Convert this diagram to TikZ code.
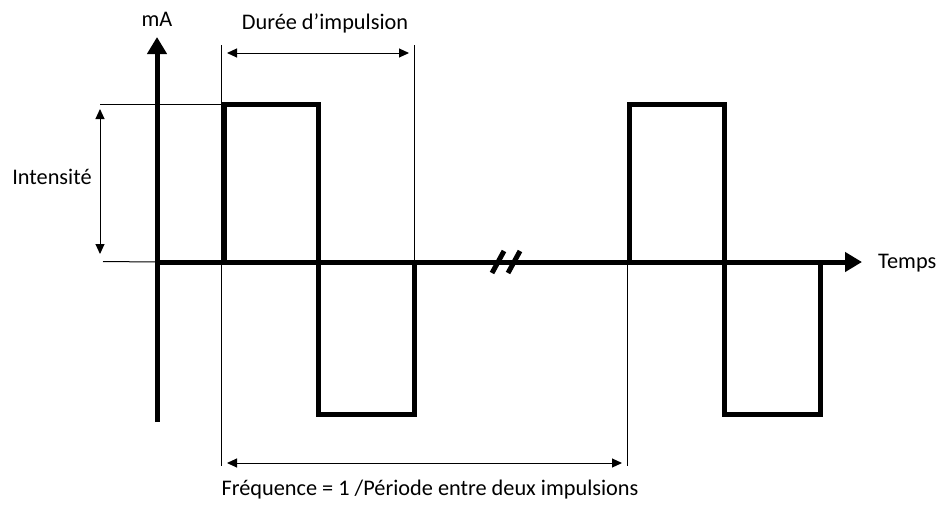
\documentclass[tikz,border=0pt]{standalone}
\usepackage{fontspec}
\setmainfont{Carlito}
\usetikzlibrary{arrows.meta}
\begin{document}
\begin{tikzpicture}[x=1pt,y=-1pt,
  thick line/.style={line width=5pt},
  thin line/.style={line width=1pt},
  axisarrow/.style={thick line,-{Triangle[length=17pt,width=19pt]}},
  dimarrow/.style={thin line,{Triangle[length=10pt,width=9pt]}-{Triangle[length=10pt,width=9pt]}},
  lbl/.style={font=\fontsize{22.3}{26}\selectfont,inner sep=0pt}]
\useasboundingbox (0,0) rectangle (941,509);
% coordinates
\coordinate (o) at (157,262);
\coordinate (ytop) at (157,37);
\coordinate (ybot) at (157,422);
\coordinate (xend) at (862,262);
% extension lines
\draw[thin line] (100,104.5) coordinate (e1a) -- (222,104.5) coordinate (e1b);
\draw[thin line] (103,261.5) coordinate (e2a) -- (o);
\draw[thin line] (221,45) coordinate (v1a) -- (221,466) coordinate (v1b);
\draw[thin line] (414,45) coordinate (v2a) -- (414,262) coordinate (v2b);
\draw[thin line] (627,262) coordinate (v3a) -- (627,466) coordinate (v3b);
% axes
\draw[axisarrow] (ybot) -- (ytop);
\draw[axisarrow] (o) -- (xend);
% waveform
\draw[thick line,line join=miter] (224,262) -- (224,104.5) -- (318,104.5) -- (318,414) -- (414,414) -- (414,262);
\draw[thick line,line join=miter] (629,262) -- (629,104.5) -- (724,104.5) -- (724,414) -- (820,414) -- (820,262);
% break
\draw[thick line] (492,273) coordinate (b1a) -- (504,251) coordinate (b1b);
\draw[thick line] (508,273) coordinate (b2a) -- (520,251) coordinate (b2b);
% dimension arrows
\coordinate (d1a) at (227,53); \coordinate (d1b) at (409,53);
\draw[dimarrow] (d1a) -- (d1b);
\coordinate (d2a) at (100,109); \coordinate (d2b) at (100,254);
\draw[dimarrow] (d2a) -- (d2b);
\coordinate (d3a) at (227,463); \coordinate (d3b) at (622,463);
\draw[dimarrow] (d3a) -- (d3b);
% labels
\node[lbl,anchor=base] (ma) at (157,26) {mA};
\node[lbl,anchor=base] (duree) at (325,29) {Durée d’impulsion};
\node[lbl,anchor=base] (int) at (52,184) {Intensité};
\node[lbl,anchor=base west] (temps) at (878,268) {Temps};
\node[lbl,anchor=base] (freq) at (430,495) {Fréquence = 1 /Période entre deux impulsions};
\end{tikzpicture}
\end{document}
